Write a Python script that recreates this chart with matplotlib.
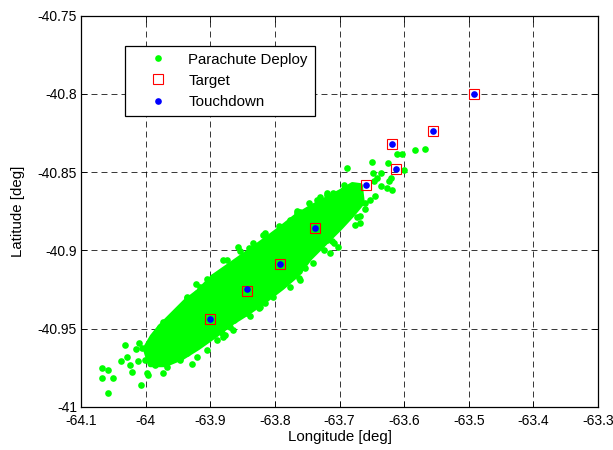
import matplotlib
matplotlib.use("Agg")
import matplotlib.pyplot as plt

plt.rcParams['font.family'] = ['Liberation Sans', 'DejaVu Sans']
plt.rcParams['lines.scale_dashes'] = False

# ---- data ----
x_ticks = [-64.1, -64.0, -63.9, -63.8, -63.7, -63.6, -63.5, -63.4, -63.3]
x_tick_labels = ['-64.1', '-64', '-63.9', '-63.8', '-63.7', '-63.6', '-63.5', '-63.4', '-63.3']
y_ticks = [-41.0, -40.95, -40.9, -40.85, -40.8, -40.75]
y_tick_labels = ['-41', '-40.95', '-40.9', '-40.85', '-40.8', '-40.75']

# outline of the dense (fully overlapping) part of the parachute-deploy cloud
core_lon = [-64.0011, -63.9902, -63.9778, -63.9592, -63.9391, -63.9189, -63.8957, -63.8693,
            -63.8429, -63.8150, -63.7918, -63.7685, -63.7453, -63.7220, -63.6988, -63.6802,
            -63.6678, -63.6647, -63.6802, -63.6988, -63.7220, -63.7453, -63.7654, -63.7887,
            -63.8150, -63.8414, -63.8662, -63.8926, -63.9189, -63.9437, -63.9701, -63.9933]
core_lat = [-40.9628, -40.9551, -40.9487, -40.9410, -40.9327, -40.9263, -40.9167, -40.9091,
            -40.9014, -40.8931, -40.8860, -40.8784, -40.8726, -40.8675, -40.8624, -40.8579,
            -40.8586, -40.8696, -40.8773, -40.8856, -40.8952, -40.9048, -40.9156, -40.9239,
            -40.9322, -40.9399, -40.9463, -40.9546, -40.9623, -40.9687, -40.9732, -40.9732]

# individual parachute-deploy points around the dense cloud
deploy_lon = [-64.0682, -64.0589, -64.0682, -64.0502, -64.0589, -64.0073, -64.0321, -64.0099,
              -64.0150, -64.0057, -64.0285, -64.0383, -64.0243, -64.0217, -64.0115, -64.0011,
              -63.9984, -63.9960, -63.9856, -63.9727, -63.9701, -63.9907, -63.9856, -63.9778,
              -63.9650, -63.9597, -63.9495, -63.9468, -63.9287, -63.9364, -63.9220, -63.9364,
              -63.9313, -63.9054, -63.8899, -63.8771, -63.8744, -63.8642, -63.9262, -63.8667,
              -63.8538, -63.8409, -63.8254, -63.8383, -63.8150, -63.8822, -63.8952, -63.8150,
              -63.7944, -63.7659, -63.7479, -63.7349, -63.7194, -63.7634, -63.7634, -63.7530,
              -63.7918, -63.7194, -63.7091, -63.7247, -63.8047, -63.5840, -63.5685, -63.6109,
              -63.6042, -63.6496, -63.6254, -63.6884, -63.6006, -63.6367, -63.6481, -63.6212,
              -63.6239, -63.6419, -63.6471, -63.6367, -63.6264, -63.6186, -63.6445, -63.6523,
              -63.6600, -63.6615, -63.6678, -63.6729, -63.6688, -63.6766, -63.6936, -63.6936,
              -63.7298, -63.7194, -63.7453, -63.7659, -63.7116,
              -63.8802, -63.8957, -63.9158, -63.9360, -63.8569, -63.8336, -63.8181, -63.7964,
              -63.7763, -63.7608, -63.7422, -63.7251, -63.7096,
              -63.8957, -63.8693, -63.8429, -63.8228, -63.8026, -63.7763, -63.7608, -63.7406,
              -63.7143, -63.7019,
              -63.9670, -63.9468, -63.9205, -63.9050, -63.8802, -63.8647,
              -63.9732, -63.9577, -63.9360, -63.9205, -63.9003, -63.8848, -63.8693]
deploy_lat = [-40.9752, -40.9767, -40.9816, -40.9816, -40.9912, -40.9863, -40.9607, -40.9592,
              -40.9629, -40.9624, -40.9682, -40.9710, -40.9731, -40.9780, -40.9710, -40.9699,
              -40.9784, -40.9795, -40.9731, -40.9784, -40.9720, -40.9667, -40.9539, -40.9490,
              -40.9464, -40.9443, -40.9390, -40.9688, -40.9724, -40.9656, -40.9215, -40.9304,
              -40.9347, -40.9183, -40.9575, -40.9539, -40.9059, -40.9443, -40.9315, -40.9106,
              -40.9006, -40.8985, -40.9368, -40.9422, -40.9336, -40.9528, -40.9528, -40.8889,
              -40.8847, -40.8761, -40.8697, -40.8676, -40.8644, -40.9134, -40.9176, -40.9113,
              -40.9230, -40.8932, -40.8953, -40.8996, -40.9251, -40.8356, -40.8350, -40.8382,
              -40.8382, -40.8435, -40.8441, -40.8473, -40.8489, -40.8505, -40.8505, -40.8537,
              -40.8559, -40.8537, -40.8559, -40.8586, -40.8601, -40.8612, -40.8655, -40.8676,
              -40.8697, -40.8735, -40.8778, -40.8786, -40.8825, -40.8836, -40.8580, -40.8607,
              -40.8661, -40.8633, -40.8740, -40.8751, -40.8942,
              -40.9059, -40.9168, -40.9232, -40.9296, -40.8976, -40.8951, -40.8900, -40.8887,
              -40.8804, -40.8753, -40.8721, -40.8689, -40.8631,
              -40.9488, -40.9488, -40.9398, -40.9360, -40.9296, -40.9232, -40.9187, -40.9079,
              -40.9015, -40.8976,
              -40.9744, -40.9699, -40.9680, -40.9635, -40.9552, -40.9507,
              -40.9456, -40.9424, -40.9334, -40.9270, -40.9207, -40.9168, -40.9123]

target_lon = [-63.900, -63.843, -63.792, -63.738, -63.659, -63.612, -63.619, -63.555, -63.492]
target_lat = [-40.944, -40.926, -40.909, -40.886, -40.858, -40.848, -40.832, -40.824, -40.800]

touch_lon = [-63.900, -63.843, -63.792, -63.738, -63.659, -63.612, -63.619, -63.555, -63.492]
touch_lat = [-40.944, -40.925, -40.909, -40.886, -40.858, -40.848, -40.832, -40.824, -40.800]

# ---- figure ----
fig = plt.figure(figsize=(6.13, 4.5), dpi=100)
ax = fig.add_axes([0.1325, 0.0962, 0.8431, 0.8689])

green = (0.0, 1.0, 0.0)
ax.fill(core_lon, core_lat, color=green, lw=3.5, joinstyle='round', zorder=2)
ax.plot(deploy_lon, deploy_lat, 'o', color=green, ms=4.8, mec='none', lw=0,
        label='Parachute Deploy', zorder=2)
ax.plot(target_lon, target_lat, 's', mfc='none', mec='red', ms=6.6, mew=0.8, lw=0,
        label='Target', zorder=3)
ax.plot(touch_lon, touch_lat, 'o', color='blue', ms=4.8, mec='none', lw=0,
        label='Touchdown', zorder=4)

ax.set_xlim(-64.1, -63.3)
ax.set_ylim(-41.0, -40.75)
ax.set_xticks(x_ticks)
ax.set_xticklabels(x_tick_labels)
ax.set_yticks(y_ticks)
ax.set_yticklabels(y_tick_labels)

ax.grid(True, color='black', linestyle=(0, (4.3, 2.9)), linewidth=0.55, zorder=1)
ax.set_axisbelow(True)
ax.tick_params(direction='in', top=True, right=True, length=4, width=0.6,
               labelsize=10)
ax.tick_params(axis='x', pad=5)
ax.tick_params(axis='y', pad=3)
for s in ax.spines.values():
    s.set_linewidth(0.9)

ax.set_xlabel('Longitude [deg]', fontsize=10.8, labelpad=2)
ax.set_ylabel('Latitude [deg]', fontsize=10.8, labelpad=9)

leg = ax.legend(loc='upper left', bbox_to_anchor=(0.085, 0.9235), borderaxespad=0,
                fontsize=10.8, frameon=True, fancybox=False, shadow=False,
                borderpad=0.47, handlelength=3.47, handletextpad=0.27, labelspacing=0.47,
                numpoints=1)
leg.get_frame().set_edgecolor('black')
leg.get_frame().set_linewidth(0.9)
leg.get_frame().set_alpha(1)

fig.savefig('out.png', dpi=100)
